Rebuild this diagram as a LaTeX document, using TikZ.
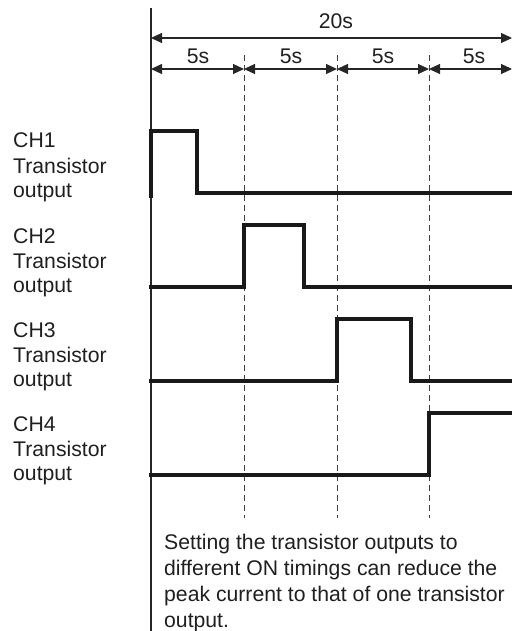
\documentclass[tikz,border=0pt]{standalone}
\usepackage{fontspec}
\setmainfont{Liberation Sans}
\usetikzlibrary{arrows.meta}
\begin{document}
\begin{tikzpicture}[x=1pt,y=-1pt,
  lbl/.style={anchor=base west,inner sep=0pt,font=\fontsize{21.2}{24}\selectfont,text=black!88},
  dimtxt/.style={anchor=base,inner sep=0pt,font=\fontsize{21.2}{24}\selectfont,text=black!88},
  dim/.style={line width=1.1pt,draw=black!85,{Triangle[length=11pt,width=10pt]}-{Triangle[length=11pt,width=10pt]}},
  guide/.style={line width=1pt,draw=black!75,dash pattern=on 6pt off 4pt},
  sig/.style={line width=3.4pt,draw=black!90,line join=miter},
  axis/.style={line width=1.2pt,draw=black!85}]
\useasboundingbox (0,0) rectangle (513,631);
% axis
\coordinate (ax0) at (151,8);
\coordinate (ax1) at (151,631);
\draw[axis] (ax0) -- (ax1);
% coordinates
\coordinate (t0) at (151,38);
\coordinate (t4) at (512,38);
\coordinate (a0) at (151,69);
\coordinate (a1) at (244,69);
\coordinate (a2) at (337,69);
\coordinate (a3) at (429,69);
\coordinate (a4) at (512,69);
% guides
\foreach \x/\n in {244/1,337/2,429/3}{
  \coordinate (g\n top) at (\x,55);
  \coordinate (g\n bot) at (\x,518);
  \draw[guide] (g\n top) -- (g\n bot);
}
% dimensions
\draw[dim] (t0) -- (t4);
\node[dimtxt] (l20) at (336,29) {20s};
\draw[dim] (a0) -- (a1);
\draw[dim] (a1) -- (a2);
\draw[dim] (a2) -- (a3);
\draw[dim] (a3) -- (a4);
\node[dimtxt] (l5a) at (198,64) {5s};
\node[dimtxt] (l5b) at (291,64) {5s};
\node[dimtxt] (l5c) at (383,64) {5s};
\node[dimtxt] (l5d) at (474,64) {5s};
% labels
\foreach \i/\yy in {1/148,2/243,3/337,4/431}{
  \node[lbl] (c\i a) at (13,\yy) {CH\i};
  \node[lbl] (c\i b) at (13,\yy+25) {Transistor};
  \node[lbl] (c\i c) at (13,\yy+49) {output};
}
% signals
\draw[sig] (151,198) -- (151,131) -- (197,131) -- (197,193) -- (512,193);
\draw[sig] (149,287) -- (244,287) -- (244,225) -- (304,225) -- (304,287) -- (512,287);
\draw[sig] (149,381) -- (337,381) -- (337,319) -- (411,319) -- (411,381) -- (512,381);
\draw[sig] (149,475) -- (429,475) -- (429,413) -- (512,413);
% note
\node[lbl] (n1) at (164,549) {Setting the transistor outputs to};
\node[lbl] (n2) at (164,575) {different ON timings can reduce the};
\node[lbl] (n3) at (164,601) {peak current to that of one transistor};
\node[lbl] (n4) at (164,627) {output.};
\end{tikzpicture}
\end{document}
